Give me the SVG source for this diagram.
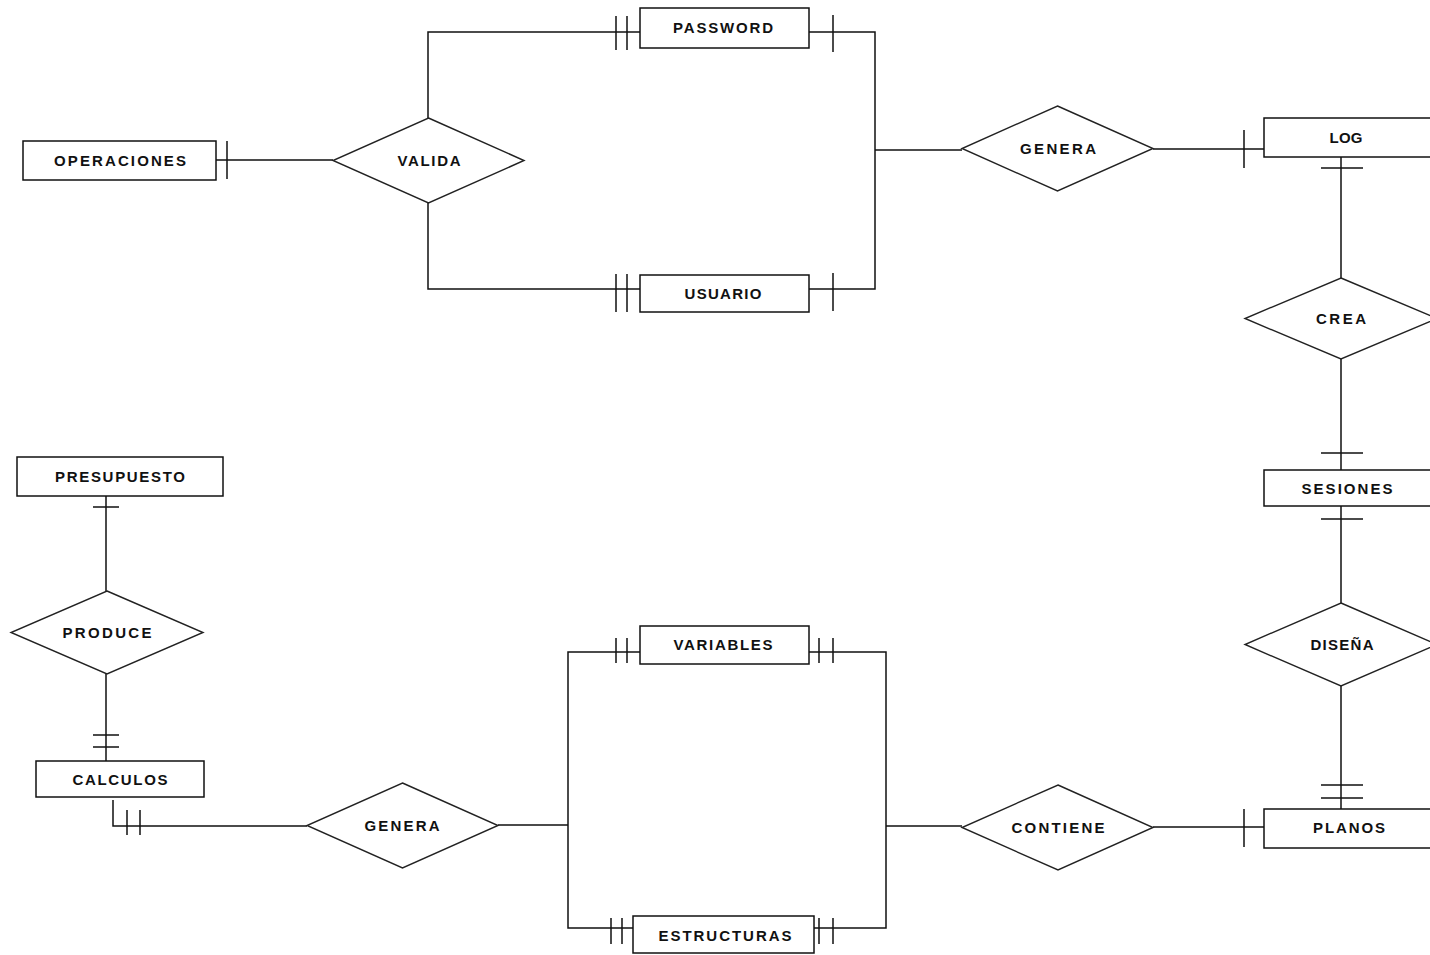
<svg xmlns="http://www.w3.org/2000/svg" width="1430" height="955" viewBox="0 0 1430 955">
<style>
.ent{fill:#fff;stroke:#111;stroke-width:1.5}
.rel{fill:#fff;stroke:#222;stroke-width:1.4}
.ln{fill:none;stroke:#111;stroke-width:1.5}
.lb{font-family:"Liberation Sans",Arial,sans-serif;font-weight:bold;font-size:15px;fill:#111;text-anchor:middle}
</style>
<rect width="1430" height="955" fill="#fff"/>
<g id="connectors">
<path class="ln" d="M216,160H333 M227,141V179"/>
<path class="ln" d="M428,118V32H640 M616,16V50 M627,16V50"/>
<path class="ln" d="M809,32H875V289H809 M833,15V52 M833,273V311"/>
<path class="ln" d="M428,203V289H640 M616,274V312 M627,274V312"/>
<path class="ln" d="M875,150H962"/>
<path class="ln" d="M1153,149H1264 M1244,130V168"/>
<path class="ln" d="M1341,157V278 M1321,168H1363"/>
<path class="ln" d="M1341,359V470 M1321,453H1363"/>
<path class="ln" d="M1341,506V603 M1321,519H1363"/>
<path class="ln" d="M1341,686V809 M1321,785H1363 M1321,798H1363"/>
<path class="ln" d="M1153,827H1264 M1244,809V847"/>
<path class="ln" d="M809,652H886V928H814 M886,826H962 M819,638V663 M833,638V663 M819,918V944 M833,918V944"/>
<path class="ln" d="M640,652H568V928H633 M498,825H568 M616,638V663 M627,638V663 M611,918V944 M622,918V944"/>
<path class="ln" d="M113,800V826H307 M127,810V835 M140,810V835"/>
<path class="ln" d="M106,496V591 M93,507H119"/>
<path class="ln" d="M106,674V761 M93,735H119 M93,747H119"/>
</g>
<g id="OPERACIONES"><rect class="ent" x="23" y="141" width="193" height="39"/><text class="lb" x="120" y="166" textLength="132" lengthAdjust="spacing">OPERACIONES</text></g>
<g id="VALIDA"><polygon class="rel" points="428.5,118 524,160.5 428.5,203 333,160.5"/><text class="lb" x="429" y="166" textLength="63" lengthAdjust="spacing">VALIDA</text></g>
<g id="PASSWORD"><rect class="ent" x="640" y="8" width="169" height="40"/><text class="lb" x="723" y="33" textLength="100" lengthAdjust="spacing">PASSWORD</text></g>
<g id="USUARIO"><rect class="ent" x="640" y="275" width="169" height="37"/><text class="lb" x="723" y="299" textLength="77" lengthAdjust="spacing">USUARIO</text></g>
<g id="GENERA1"><polygon class="rel" points="1057.5,106 1153,148.5 1057.5,191 962,148.5"/><text class="lb" x="1058" y="154" textLength="76" lengthAdjust="spacing">GENERA</text></g>
<g id="LOG"><rect class="ent" x="1264" y="118" width="180" height="39"/><text class="lb" x="1346" y="143" textLength="33" lengthAdjust="spacing">LOG</text></g>
<g id="CREA"><polygon class="rel" points="1341,278 1437,318.5 1341,359 1245,318.5"/><text class="lb" x="1341" y="324" textLength="50" lengthAdjust="spacing">CREA</text></g>
<g id="SESIONES"><rect class="ent" x="1264" y="470" width="180" height="36"/><text class="lb" x="1347" y="494" textLength="91" lengthAdjust="spacing">SESIONES</text></g>
<g id="DISENA"><polygon class="rel" points="1341,603 1437,644.5 1341,686 1245,644.5"/><text class="lb" x="1342" y="650" textLength="63" lengthAdjust="spacing">DISEÑA</text></g>
<g id="PLANOS"><rect class="ent" x="1264" y="809" width="180" height="39"/><text class="lb" x="1349" y="833" textLength="72" lengthAdjust="spacing">PLANOS</text></g>
<g id="CONTIENE"><polygon class="rel" points="1058,785 1153,827.5 1058,870 962,827.5"/><text class="lb" x="1058" y="833" textLength="93" lengthAdjust="spacing">CONTIENE</text></g>
<g id="VARIABLES"><rect class="ent" x="640" y="626" width="169" height="38"/><text class="lb" x="723" y="650" textLength="99" lengthAdjust="spacing">VARIABLES</text></g>
<g id="ESTRUCTURAS"><rect class="ent" x="633" y="916" width="181" height="37"/><text class="lb" x="725" y="941" textLength="133" lengthAdjust="spacing">ESTRUCTURAS</text></g>
<g id="GENERA2"><polygon class="rel" points="402.5,783 498,825.5 402.5,868 307,825.5"/><text class="lb" x="402" y="831" textLength="75" lengthAdjust="spacing">GENERA</text></g>
<g id="CALCULOS"><rect class="ent" x="36" y="761" width="168" height="36"/><text class="lb" x="120" y="785" textLength="95" lengthAdjust="spacing">CALCULOS</text></g>
<g id="PRODUCE"><polygon class="rel" points="107,591 203,632.5 107,674 11,632.5"/><text class="lb" x="107" y="638" textLength="89" lengthAdjust="spacing">PRODUCE</text></g>
<g id="PRESUPUESTO"><rect class="ent" x="17" y="457" width="206" height="39"/><text class="lb" x="120" y="482" textLength="130" lengthAdjust="spacing">PRESUPUESTO</text></g>
</svg>
